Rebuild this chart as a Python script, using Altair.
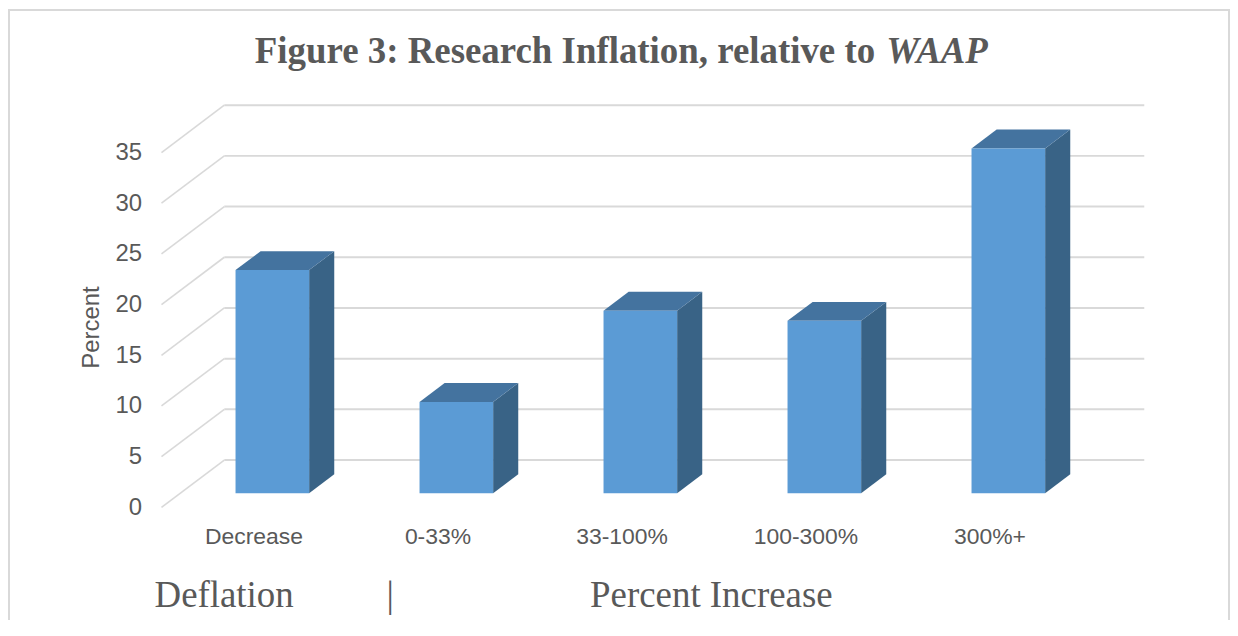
import json
import altair as alt
import pandas as pd

# ---------------- data ----------------
CATEGORIES = ["Decrease", "0-33%", "33-100%", "100-300%", "300%+"]
PERCENT = [22, 9, 18, 17, 34]
TICKS = [0, 5, 10, 15, 20, 25, 30, 35]
TITLE_MAIN = "Figure 3: Research Inflation, relative to"
TITLE_ITALIC = "WAAP"
Y_TITLE = "Percent"
FOOT_LEFT = "Deflation"
FOOT_SEP = "|"
FOOT_RIGHT = "Percent Increase"

# ---------------- geometry / style ----------------
W, H = 986, 403.5
DXU = 63 / 184.6          # depth shift (slot units)
DYU = 4.67                # depth shift (value units)
X_DOMAIN = [-0.5, 4.5 + DXU]
Y_DOMAIN = [0, 35 + DYU]
D0, D1 = 0.3, 0.7         # bar depth range
HALF = 0.2                # half bar width (slot units)

FRONT = "#5B9BD5"
TOP = "#44739F"
SIDE = "#396386"
GRID = "#D9D9D9"
TEXT = "#595959"
SANS = "Liberation Sans"
SERIF = "Liberation Serif"

bars = pd.DataFrame({"cat": CATEGORIES, "idx": list(range(len(CATEGORIES))), "value": PERCENT})
ticks = pd.DataFrame({"v": TICKS})
one = pd.DataFrame({"k": [0]})

xs = alt.Scale(domain=X_DOMAIN, nice=False, zero=False)
ys = alt.Scale(domain=Y_DOMAIN, nice=False, zero=False)

label_expr = json.dumps(CATEGORIES) + "[datum.value]"
X_AX = alt.Axis(
    values=list(range(len(CATEGORIES))), labelExpr=label_expr, title=None,
    domain=False, ticks=False, grid=False, labelFont=SANS, labelFontSize=23,
    labelColor=TEXT, labelPadding=18, labelFlush=False, labelOverlap=False, zindex=1)
Y_AX = alt.Axis(
    values=TICKS, title=Y_TITLE, domain=False, ticks=False, grid=False,
    labelFont=SANS, labelFontSize=24, labelColor=TEXT, labelPadding=20,
    titleFont=SANS, titleFontSize=24, titleFontWeight="normal", titleColor=TEXT,
    titleX=-70, titleY=222.5, titleAlign="center", titleBaseline="middle",
    titleAngle=270, zindex=1)

# frame
frame = alt.Chart(one).mark_rect(fill="transparent", stroke=GRID, strokeWidth=2).encode(
    x=alt.value(-153), x2=alt.value(1071), y=alt.value(-95.5), y2=alt.value(560)
)

# floor diagonals
diag = alt.Chart(ticks).transform_calculate(
    x0="-0.5", x1=f"-0.5 + {DXU}", yb=f"datum.v + {DYU}"
).mark_rule(color=GRID, strokeWidth=1.6).encode(
    x=alt.X("x0:Q", scale=xs, axis=X_AX),
    x2="x1:Q",
    y=alt.Y("v:Q", scale=ys, axis=Y_AX),
    y2="yb:Q",
)

# back wall gridlines
back = alt.Chart(ticks).transform_calculate(
    x0=f"-0.5 + {DXU}", x1=f"4.5 + {DXU}", yb=f"datum.v + {DYU}"
).mark_rule(color=GRID, strokeWidth=2).encode(
    x=alt.X("x0:Q", scale=xs, axis=X_AX),
    x2="x1:Q",
    y=alt.Y("yb:Q", scale=ys, axis=Y_AX),
)

base = alt.Chart(bars).transform_calculate(
    d0=str(D0), d1=str(D1)
).transform_fold(["d0", "d1"], as_=["face", "depth"])

side = base.transform_calculate(
    sx=f"datum.idx + {HALF} + datum.depth*{DXU}",
    sy=f"datum.depth*{DYU}",
    sy2=f"datum.value + datum.depth*{DYU}",
).mark_area(color=SIDE, orient="vertical").encode(
    x=alt.X("sx:Q", scale=xs, axis=X_AX),
    y=alt.Y("sy2:Q", scale=ys, axis=Y_AX),
    y2="sy:Q",
    detail="cat:N",
)

top = base.transform_calculate(
    tx=f"datum.idx - {HALF} + datum.depth*{DXU}",
    tx2=f"datum.idx + {HALF} + datum.depth*{DXU}",
    ty=f"datum.value + datum.depth*{DYU}",
).mark_area(color=TOP, orient="horizontal").encode(
    y=alt.Y("ty:Q", scale=ys, axis=Y_AX),
    x=alt.X("tx:Q", scale=xs, axis=X_AX),
    x2="tx2:Q",
    detail="cat:N",
)

front = alt.Chart(bars).transform_calculate(
    fx=f"datum.idx - {HALF} + {D0}*{DXU}",
    fx2=f"datum.idx + {HALF} + {D0}*{DXU}",
    fy=f"{D0}*{DYU}",
    fy2=f"datum.value + {D0}*{DYU}",
).mark_rect(color=FRONT).encode(
    x=alt.X("fx:Q", scale=xs, axis=X_AX),
    x2="fx2:Q",
    y=alt.Y("fy2:Q", scale=ys, axis=Y_AX),
    y2="fy:Q",
)

def txt(s, x, y, font, size, weight="normal", style="normal", align="left"):
    return alt.Chart(pd.DataFrame({"t": [s]})).mark_text(
        font=font, fontSize=size, fontWeight=weight, fontStyle=style,
        align=align, baseline="alphabetic", color=TEXT
    ).encode(text="t:N", x=alt.value(x), y=alt.value(y))

t1 = txt(TITLE_MAIN, 716, -42.5, SERIF, 37, weight="bold", align="right")
t2 = txt(TITLE_ITALIC, 727, -42.5, SERIF, 37, weight="bold", style="italic", align="left")
f1 = txt(FOOT_LEFT, -7, 503.5, SERIF, 37)
f2 = txt(FOOT_SEP, 229.5, 503.5, SERIF, 37, align="center")
f3 = txt(FOOT_RIGHT, 430, 503.5, SERIF, 37)

chart = alt.layer(frame, diag, back, side, top, front, t1, t2, f1, f2, f3).properties(
    width=W, height=H,
    autosize=alt.AutoSizeParams(type="none"),
    padding={"left": 154, "top": 96.5, "right": 86, "bottom": 112},
).configure_view(stroke="transparent")

chart.save("out.html", embed_options={"renderer": "svg", "actions": False})
